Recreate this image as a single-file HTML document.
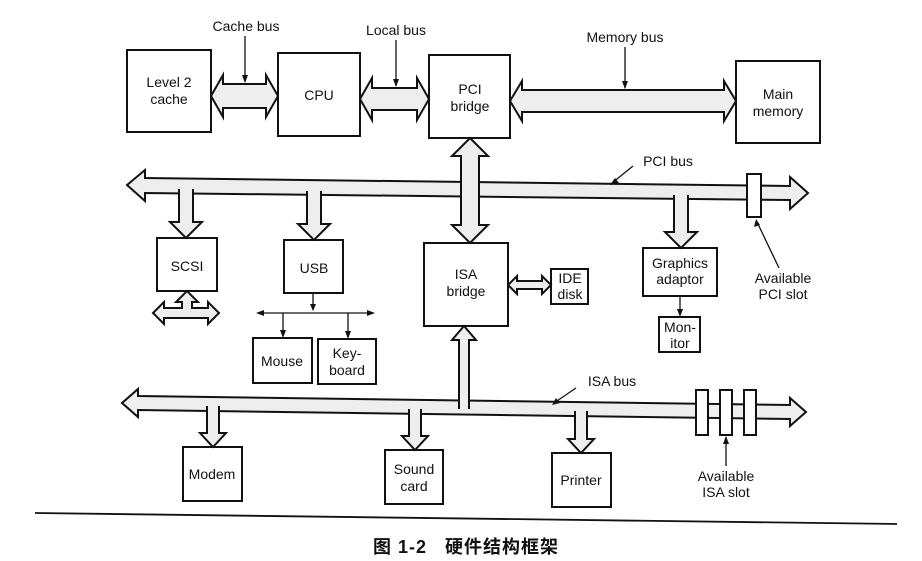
<!DOCTYPE html>
<html><head><meta charset="utf-8"><style>
html,body{margin:0;padding:0;background:#fff;}
svg{display:block;}
text{font-family:"Liberation Sans",Arial,sans-serif;font-size:14px;fill:#111;}
</style></head><body>
<svg width="922" height="561" viewBox="0 0 922 561" xmlns="http://www.w3.org/2000/svg">
<g fill="none" stroke="#111" stroke-width="2">
<rect x="127" y="50" width="84" height="82"/>
<rect x="278" y="53" width="82" height="83"/>
<rect x="429" y="55" width="81" height="83"/>
<rect x="736" y="61" width="84" height="82"/>
<rect x="157" y="238" width="60" height="53"/>
<rect x="284" y="240" width="59" height="53"/>
<rect x="424" y="243" width="84" height="83"/>
<rect x="551" y="269" width="37" height="35"/>
<rect x="643" y="248" width="74" height="48"/>
<rect x="659" y="317" width="41" height="35"/>
<rect x="253" y="338" width="59" height="45"/>
<rect x="318" y="339" width="58" height="45"/>
<rect x="183" y="447" width="59" height="54"/>
<rect x="385" y="450" width="58" height="54"/>
<rect x="552" y="453" width="59" height="54"/>
</g>
<g fill="#eee" stroke="#111" stroke-width="2" stroke-linejoin="miter">
<polygon points="211,96 223,75 223,84 266,84 266,75 278,96 266,117 266,108 223,108 223,117"/>
<polygon points="360,99 372,78 372,88 417,88 417,78 429,99 417,120 417,110 372,110 372,120"/>
<polygon points="510,101 522,81 522,90 724,90 724,81 736,101 724,121 724,112 522,112 522,121"/>
<polygon points="127,185 145,170 145,178 790,186 790,177 808,193 790,209 790,200 145,193 145,201"/>
<polygon points="179,190 193,190 193,222 202,222 186,238 170,222 179,222"/>
<polygon points="307,192 321,192 321,224 330,224 314,240 298,224 307,224"/>
<polygon points="674,196 688,196 688,232 697,232 681,248 665,232 674,232"/>
<polygon points="470,138 488,156 479,156 479,225 488,225 470,243 452,225 461,225 461,156 452,156"/>
<polygon points="122,403 138,389 138,396 790,405 790,398 806,412 790,426 790,419 138,410 138,417"/>
<polygon points="464,326 476,340 469,340 469,408 459,408 459,340 452,340"/>
<polygon points="207,407 219,407 219,433 226,433 213,447 200,433 207,433"/>
<polygon points="409,410 421,410 421,436 428,436 415,450 402,436 409,436"/>
<polygon points="575,412 587,412 587,439 594,439 581,453 568,439 575,439"/>
<polygon points="508,285 517,276 517,281 542,281 542,276 551,285 542,294 542,289 517,289 517,294"/>
<polygon points="153,313 164,302 164,308 182,308 182,302 176,302 187,291 198,302 192,302 192,308 208,308 208,302 219,313 208,324 208,318 164,318 164,324"/>
</g>
<g fill="#eee" stroke="none">
<rect x="180" y="186" width="12" height="9"/>
<rect x="308" y="187" width="12" height="9"/>
<rect x="675" y="193" width="12" height="8"/>
<rect x="462" y="179" width="16" height="20"/>
<rect x="460" y="400" width="8" height="12"/>
<rect x="208" y="404" width="10" height="8"/>
<rect x="410" y="407" width="10" height="7"/>
<rect x="576" y="409" width="10" height="7"/>
</g>
<g fill="#fff" stroke="#111" stroke-width="2">
<rect x="747" y="174" width="14" height="43"/>
<rect x="696" y="390" width="12" height="45"/>
<rect x="720" y="390" width="12" height="45"/>
<rect x="744" y="390" width="12" height="45"/>
</g>
<g stroke="#111" stroke-width="1.3" fill="#111">
<line x1="245" y1="36" x2="245" y2="82"/><polygon points="242,75 248,75 245,83" stroke="none"/>
<line x1="396" y1="40" x2="396" y2="86"/><polygon points="393,79 399,79 396,87" stroke="none"/>
<line x1="625" y1="47" x2="625" y2="88"/><polygon points="622,81 628,81 625,89" stroke="none"/>
<line x1="633" y1="166" x2="612" y2="183"/><polygon points="610,185 615,178 619,183" stroke="none"/>
<line x1="779" y1="268" x2="757" y2="222"/><polygon points="756,219 754,227 760,225" stroke="none"/>
<line x1="576" y1="388" x2="554" y2="403"/><polygon points="552,405 556,398 560,403" stroke="none"/>
<line x1="726" y1="466" x2="726" y2="437"/><polygon points="723,444 729,444 726,436" stroke="none"/>
<line x1="313" y1="293" x2="313" y2="310"/><polygon points="310,304 316,304 313,311" stroke="none"/>
<line x1="258" y1="313" x2="373" y2="313"/>
<polygon points="256,313 264,310 264,316" stroke="none"/><polygon points="375,313 367,310 367,316" stroke="none"/>
<line x1="283" y1="313" x2="283" y2="336"/><polygon points="280,330 286,330 283,338" stroke="none"/>
<line x1="348" y1="313" x2="348" y2="337"/><polygon points="345,331 351,331 348,339" stroke="none"/>
<line x1="680" y1="296" x2="680" y2="315"/><polygon points="677,309 683,309 680,317" stroke="none"/>
</g>
<line x1="35" y1="513" x2="897" y2="524" stroke="#111" stroke-width="1.8"/>
<g text-anchor="middle">
<text x="246" y="31">Cache bus</text>
<text x="396" y="35">Local bus</text>
<text x="625" y="42">Memory bus</text>
<text x="668" y="166">PCI bus</text>
<text x="612" y="386">ISA bus</text>
<text x="169" y="87">Level 2</text><text x="169" y="104">cache</text>
<text x="319" y="100">CPU</text>
<text x="470" y="94">PCI</text><text x="470" y="111">bridge</text>
<text x="778" y="99">Main</text><text x="778" y="116">memory</text>
<text x="187" y="271">SCSI</text>
<text x="314" y="273">USB</text>
<text x="466" y="279">ISA</text><text x="466" y="296">bridge</text>
<text x="570" y="283">IDE</text><text x="570" y="299">disk</text>
<text x="680" y="268">Graphics</text><text x="680" y="284">adaptor</text>
<text x="680" y="332">Mon-</text><text x="680" y="348">itor</text>
<text x="282" y="366">Mouse</text>
<text x="347" y="358">Key-</text><text x="347" y="375">board</text>
<text x="212" y="479">Modem</text>
<text x="414" y="474">Sound</text><text x="414" y="491">card</text>
<text x="581" y="485">Printer</text>
<text x="783" y="283">Available</text><text x="783" y="299">PCI slot</text>
<text x="726" y="481">Available</text><text x="726" y="497">ISA slot</text>
</g>
<text x="373" y="553" style="font-family:'Liberation Sans','Noto Sans CJK SC',sans-serif;font-size:18px;font-weight:bold;letter-spacing:1px;">图 1-2 &#160; 硬件结构框架</text>
</svg>
</body></html>
